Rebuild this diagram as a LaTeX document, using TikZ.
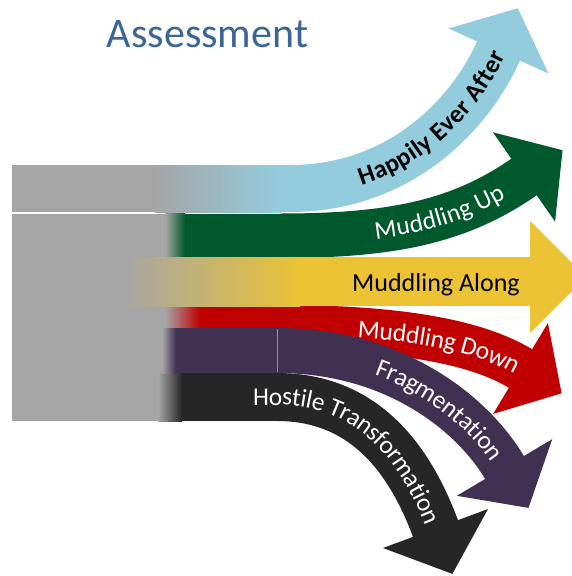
\documentclass[tikz,border=0pt]{standalone}
\usepackage{fontspec}
\setmainfont{Carlito}
\usetikzlibrary{decorations.text,calc}
\definecolor{grayc}{HTML}{A6A6A6}
\definecolor{lblue}{HTML}{93CDDD}
\definecolor{greenc}{HTML}{00592C}
\definecolor{yellowc}{HTML}{EBC334}
\definecolor{redc}{HTML}{C00000}
\definecolor{purplec}{HTML}{403152}
\definecolor{blackc}{HTML}{262626}
\definecolor{titleblue}{HTML}{3A6596}
\newcommand\labfont{\fontsize{25.5}{25.5}\selectfont}
\begin{document}
\begin{tikzpicture}[x=1pt,y=-1pt,
  fade/.style={left color=grayc,right color=#1},
  curlabel/.style n args={2}{decorate,decoration={text along path,raise=-8pt,
     text align={left indent=#1},text={#2}}}]
\useasboundingbox (0,0) rectangle (572,576);
% key points
\coordinate (rdS) at (280,327.5);  \coordinate (rdC1) at (380,327.5);
\coordinate (rdC2) at (469,337.5); \coordinate (rdM) at (520.5,368.5);
\coordinate (bkS) at (277,397);    \coordinate (bkC1) at (367,397);
\coordinate (bkC2) at (411,463);   \coordinate (bkM) at (435.5,528.5);
\coordinate (puS) at (277,350.5);  \coordinate (puC1) at (397,350.5);
\coordinate (puC2) at (473.9,415.9); \coordinate (puM) at (504.5,467.5);
\coordinate (grS) at (280,235.75); \coordinate (grC1) at (390,235.75);
\coordinate (grC2) at (458.4,222.6); \coordinate (grM) at (524,177);
\coordinate (lbS) at (290,188.5);  \coordinate (lbC1) at (400,188.5);
\coordinate (lbC2) at (470,114.7); \coordinate (lbM) at (498.5,51);
\coordinate (bkT0) at (230,397);
% gray base
\fill[grayc] (12,213.5) rectangle (172,421);
% red: Muddling Down
\shade[fade=redc] (165,305) rectangle (200,350);
\fill[redc] (199.5,305) rectangle (280.5,350);
\draw[redc,line width=45pt] (rdS) .. controls (rdC1) and (rdC2) .. (rdM) -- ($(rdM)!-1.5pt!(rdC2)$);
\fill[redc] (547.9,323.1) -- (561.6,393.3) -- (493.1,413.9) -- cycle;
% black: Hostile Transformation
\shade[fade=blackc] (158,373) rectangle (182,421);
\fill[blackc] (181.5,373) rectangle (277.5,421);
\draw[blackc,line width=48pt] (bkS) .. controls (bkC1) and (bkC2) .. (bkM) -- ($(bkM)!-1.5pt!(bkC2)$);
\fill[blackc] (488,509) -- (452.4,573.9) -- (383,548) -- cycle;
% purple: Fragmentation
\shade[fade=purplec] (162,328) rectangle (176,373);
\fill[purplec] (175.5,328) rectangle (277.5,373);
\draw[purplec,line width=45pt] (puS) .. controls (puC1) and (puC2) .. (puM) -- ($(puM)!-1.5pt!(puC2)$);
\fill[purplec] (552.2,439.2) -- (528.5,507.9) -- (456.8,495.8) -- cycle;
\draw[purplec!55!white,line width=0.6pt] (277,329) -- (277,372);
% green: Muddling Up
\shade[fade=greenc] (165,213.5) rectangle (185,258);
\fill[greenc] (184.5,213.5) rectangle (280.5,258);
\draw[greenc,line width=44.5pt] (grS) .. controls (grC1) and (grC2) .. (grM) -- ($(grM)!-1.5pt!(grC2)$);
\fill[greenc] (492.9,132.3) -- (562.5,150.2) -- (555.1,221.7) -- cycle;
% light blue: Happily Ever After
\fill[grayc] (12,165) rectangle (155.5,212);
\shade[fade=lblue] (155,165) rectangle (281,212);
\fill[lblue] (280.5,165) rectangle (290.5,212);
\draw[lblue,line width=47pt] (lbS) .. controls (lbC1) and (lbC2) .. (lbM) -- ($(lbM)!-1.5pt!(lbC2)$);
\fill[lblue] (448.5,28.5) -- (517.8,8.2) -- (548.5,73.5) -- cycle;
% yellow: Muddling Along
\shade[fade=yellowc] (122,257) rectangle (300,306);
\fill[yellowc] (299.5,257) rectangle (531,306);
\fill[yellowc] (530,221) -- (586,277) -- (530,333) -- cycle;
% labels
\path[curlabel={70pt}{|\labfont\bfseries|Happily Ever After}] (lbS) .. controls (lbC1) and (lbC2) .. (lbM);
\path[curlabel={95pt}{|\labfont\color{white}|Muddling Up}] (grS) .. controls (grC1) and (grC2) .. (grM);
\path[curlabel={78pt}{|\labfont\color{white}|Muddling Down}] (rdS) .. controls (rdC1) and (rdC2) .. (rdM);
\path[curlabel={102pt}{|\labfont\color{white}|Fragmentation}] (puS) .. controls (puC1) and (puC2) .. (puM);
\path[curlabel={23pt}{|\labfont\color{white}|Hostile Transformation}] (bkT0) -- (bkS) .. controls (bkC1) and (bkC2) .. (bkM);
\node (along) [anchor=base west,font=\fontsize{26}{26}\selectfont,inner sep=0pt] at (352,291.5) {Muddling Along};
\node (title) [anchor=base,font=\fontsize{42}{42}\selectfont,text=titleblue,inner sep=0pt] at (207.5,47) {Assessment};
\end{tikzpicture}
\end{document}
